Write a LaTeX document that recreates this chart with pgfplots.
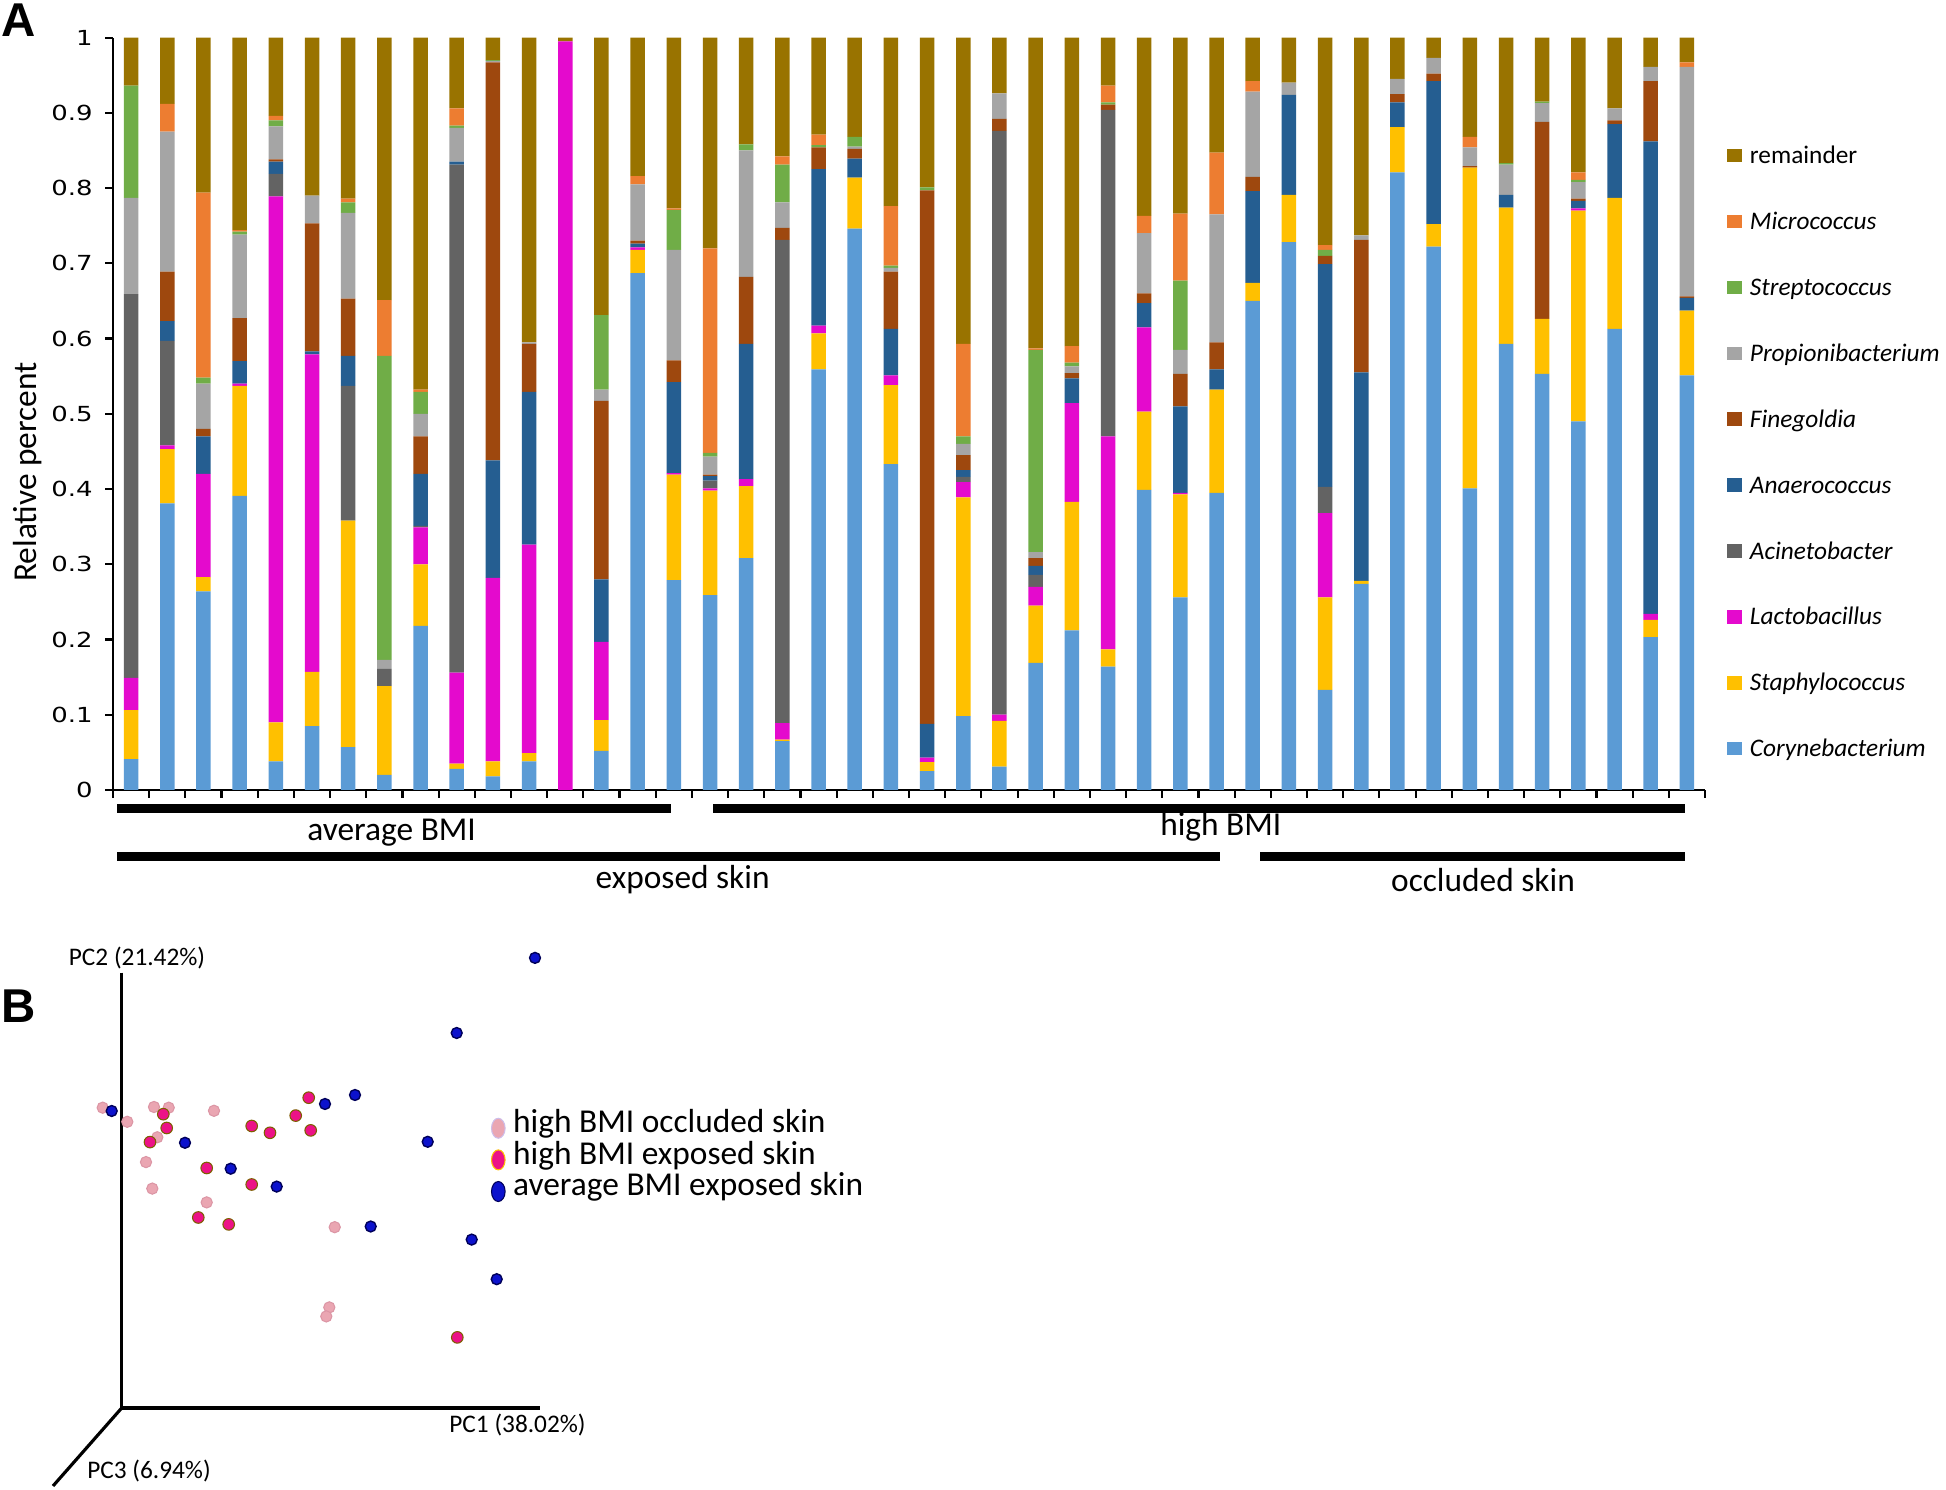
\documentclass[border=0pt]{standalone}
\usepackage{fontspec}
\setmainfont{Carlito}
\newfontfamily\dejavuwide[FakeStretch=1.25]{DejaVu Sans}
\newfontfamily\arialfont{Liberation Sans}
\usepackage{pgfplots}
\usepackage{pgfplotstable}
\pgfplotsset{compat=1.18}

\definecolor{cCory}{RGB}{91,155,213}
\definecolor{cStaph}{RGB}{255,192,0}
\definecolor{cLacto}{RGB}{228,10,205}
\definecolor{cAcin}{RGB}{99,99,99}
\definecolor{cAnaero}{RGB}{37,94,145}
\definecolor{cFine}{RGB}{158,72,14}
\definecolor{cProp}{RGB}{165,165,165}
\definecolor{cStrep}{RGB}{112,173,71}
\definecolor{cMicro}{RGB}{237,125,49}
\definecolor{cRem}{RGB}{153,115,0}
\definecolor{cPink}{RGB}{234,166,178}
\definecolor{cPinkD}{RGB}{220,150,165}
\definecolor{cMag}{RGB}{236,18,135}
\definecolor{cMagD}{RGB}{125,95,0}
\definecolor{cBlue}{RGB}{12,18,205}
\definecolor{cBlueD}{RGB}{0,0,90}

\pgfplotstableread{
x cory staph lacto acin anaero fine prop strep micro rem
1 0.041 0.065 0.043 0.510 0 0 0.128 0.149 0 0.064
2 0.381 0.072 0.005 0.139 0.026 0.066 0.186 0 0.037 0.088
3 0.264 0.019 0.137 0 0.050 0.010 0.060 0.008 0.246 0.206
4 0.391 0.146 0.003 0 0.030 0.057 0.111 0.004 0.002 0.256
5 0.038 0.052 0.699 0.030 0.016 0.003 0.044 0.008 0.006 0.104
6 0.085 0.072 0.422 0 0.004 0.170 0.037 0 0 0.210
7 0.057 0.301 0 0.179 0.040 0.076 0.114 0.014 0.005 0.214
8 0.020 0.118 0 0.023 0 0 0.012 0.404 0.074 0.349
9 0.218 0.082 0.049 0.002 0.069 0.050 0.030 0.029 0.003 0.468
10 0.028 0.007 0.121 0.675 0.004 0 0.045 0.003 0.023 0.094
11 0.018 0.020 0.244 0 0.156 0.529 0.002 0.001 0 0.030
12 0.038 0.011 0.277 0 0.203 0.064 0.002 0 0 0.405
13 0 0 0.995 0 0 0 0 0 0 0.005
14 0.052 0.041 0.104 0 0.083 0.237 0.015 0.099 0 0.369
15 0.687 0.031 0.003 0 0.005 0.004 0.075 0 0.011 0.184
16 0.279 0.140 0.002 0 0.121 0.029 0.147 0.053 0.002 0.227
17 0.259 0.139 0.003 0.010 0.006 0.002 0.024 0.005 0.272 0.280
18 0.308 0.096 0.009 0 0.180 0.089 0.168 0.008 0 0.142
19 0.065 0.002 0.022 0.642 0 0.016 0.034 0.050 0.011 0.158
20 0.559 0.048 0.010 0 0.208 0.029 0 0.003 0.014 0.129
21 0.746 0.068 0 0 0.025 0.013 0.003 0.013 0 0.132
22 0.433 0.105 0.013 0 0.062 0.076 0.005 0.003 0.079 0.224
23 0.025 0.012 0.006 0 0.045 0.709 0 0.004 0 0.199
24 0.098 0.291 0.020 0.007 0.009 0.020 0.015 0.010 0.123 0.407
25 0.031 0.061 0.008 0.776 0 0.016 0.034 0 0 0.074
26 0.169 0.076 0.025 0.016 0.012 0.010 0.008 0.269 0.002 0.413
27 0.212 0.171 0.131 0 0.033 0.007 0.009 0.005 0.022 0.410
28 0.164 0.023 0.283 0.434 0 0.007 0 0.003 0.022 0.064
29 0.399 0.104 0.112 0 0.032 0.013 0.080 0 0.023 0.237
30 0.256 0.137 0.002 0 0.115 0.043 0.032 0.092 0.089 0.234
31 0.395 0.137 0 0 0.027 0.036 0.170 0 0.082 0.153
32 0.650 0.024 0 0 0.122 0.019 0.113 0 0.014 0.058
33 0.728 0.063 0 0 0.133 0 0.016 0 0 0.060
34 0.133 0.123 0.112 0.035 0.296 0.011 0 0.008 0.006 0.276
35 0.274 0.004 0 0 0.277 0.176 0.006 0 0 0.263
36 0.821 0.060 0 0 0.033 0.011 0.020 0 0 0.055
37 0.722 0.030 0 0 0.190 0.010 0.021 0 0 0.027
38 0.401 0.426 0 0 0 0.002 0.025 0 0.014 0.132
39 0.593 0.181 0 0 0.017 0 0.040 0.002 0 0.167
40 0.553 0.073 0 0 0 0.262 0.025 0.002 0 0.085
41 0.490 0.280 0.003 0 0.010 0.003 0.022 0.003 0.010 0.179
42 0.613 0.174 0 0 0.098 0.005 0.016 0 0 0.094
43 0.203 0.023 0.008 0 0.628 0.080 0.019 0 0 0.039
44 0.551 0.086 0 0 0.017 0.002 0.305 0 0.006 0.033
}\bardata

\pgfplotstableread{
x y
102.7 382.3
154.0 383.0
168.7 382.3
214.0 379.2
127.3 368.2
157.3 352.7
146.0 327.9
152.3 301.4
206.7 287.6
334.7 262.8
329.3 182.6
326.3 173.6
}\pinkdata

\pgfplotstableread{
x y
308.7 392.3
295.7 374.4
163.3 375.8
251.7 364.0
166.7 362.0
270.0 357.2
310.7 359.6
150.0 347.9
206.7 322.0
251.7 305.5
198.3 272.5
228.7 265.6
457.3 152.6
}\magdata

\pgfplotstableread{
x y
535.0 532.1
456.7 457.0
111.7 379.0
355.0 395.0
325.0 386.0
427.7 348.2
185.0 347.2
230.7 321.3
276.7 303.4
370.7 263.5
471.7 250.4
496.7 210.8
}\bluedata

\pgfplotsset{sqleg/.style={legend image code/.code={\fill[##1] (0cm,-0.0525cm) rectangle (0.15cm,0.0825cm);}}}

\begin{document}
\begin{tikzpicture}
\useasboundingbox (0,0) rectangle (19.46,14.90);

% ---------------- Panel A ----------------
\begin{axis}[
  at={(1.13cm,7.00cm)}, anchor=south west,
  width=15.92cm, height=7.524cm, scale only axis,
  ybar stacked, bar width=0.145cm,
  xmin=0.5, xmax=44.5, ymin=0, ymax=1, enlargelimits=false,
  axis lines*=left,
  axis line style={black, line width=0.6pt},
  xtick={0.5,1.5,2.5,3.5,4.5,5.5,6.5,7.5,8.5,9.5,10.5,11.5,12.5,13.5,14.5,15.5,16.5,17.5,18.5,19.5,20.5,21.5,22.5,23.5,24.5,25.5,26.5,27.5,28.5,29.5,30.5,31.5,32.5,33.5,34.5,35.5,36.5,37.5,38.5,39.5,40.5,41.5,42.5,43.5,44.5},
  xticklabels={},
  ytick={0,0.1,0.2,0.3,0.4,0.5,0.6,0.7,0.8,0.9,1},
  yticklabels={0,0.1,0.2,0.3,0.4,0.5,0.6,0.7,0.8,0.9,1},
  yticklabel style={font=\dejavuwide\fontsize{5.9}{7}\selectfont},
  tick align=outside, major tick length=0.08cm,
  tick style={black, line width=0.6pt},
  reverse legend,
  legend cell align=left,
  legend style={at={(1.0138,0.8568)}, anchor=north west, draw=none, fill=none,
    inner sep=0pt, outer sep=0pt, row sep=12.05pt, column sep=0.08cm,
    font=\fontsize{7.2}{8}\selectfont,
    nodes={inner sep=0pt, text height=5.2pt, text depth=1.5pt}},
]
\addplot[fill=cCory, draw=none, sqleg] table[x=x, y=cory] {\bardata};
\addplot[fill=cStaph, draw=none, sqleg] table[x=x, y=staph] {\bardata};
\addplot[fill=cLacto, draw=none, sqleg] table[x=x, y=lacto] {\bardata};
\addplot[fill=cAcin, draw=none, sqleg] table[x=x, y=acin] {\bardata};
\addplot[fill=cAnaero, draw=none, sqleg] table[x=x, y=anaero] {\bardata};
\addplot[fill=cFine, draw=none, sqleg] table[x=x, y=fine] {\bardata};
\addplot[fill=cProp, draw=none, sqleg] table[x=x, y=prop] {\bardata};
\addplot[fill=cStrep, draw=none, sqleg] table[x=x, y=strep] {\bardata};
\addplot[fill=cMicro, draw=none, sqleg] table[x=x, y=micro] {\bardata};
\addplot[fill=cRem, draw=none, sqleg] table[x=x, y=rem] {\bardata};
\legend{\textit{Corynebacterium}, \textit{Staphylococcus}, \textit{Lactobacillus}, \textit{Acinetobacter}, \textit{Anaerococcus}, \textit{Finegoldia}, \textit{Propionibacterium}, \textit{Streptococcus}, \textit{Micrococcus}, remainder}
\end{axis}

% y label
\node[rotate=90, inner sep=0pt, font=\fontsize{9.5}{11}\selectfont] at (0.28,10.18) {Relative percent};

% group bars
\fill[black] (1.167,6.765) rectangle (6.71,6.855);
\fill[black] (7.13,6.765) rectangle (16.845,6.855);
\fill[black] (1.167,6.288) rectangle (12.20,6.378);
\fill[black] (12.598,6.288) rectangle (16.845,6.378);
\begin{scope}[every node/.style={inner sep=0pt, font=\fontsize{9.5}{11}\selectfont}]
\node at (3.916,6.57) {average BMI};
\node at (12.208,6.628) {high BMI};
\node at (6.827,6.10) {exposed skin};
\node at (14.83,6.10) {occluded skin};
\end{scope}

% panel letters
\node[inner sep=0pt, font=\arialfont\bfseries\fontsize{13.5}{15}\selectfont] at (0.185,14.70) {A};
\node[inner sep=0pt, font=\arialfont\bfseries\fontsize{13.5}{15}\selectfont] at (0.19,4.835) {B};

% ---------------- Panel B ----------------
\begin{axis}[
  at={(0cm,0cm)}, anchor=south west,
  width=19.46cm, height=14.90cm, scale only axis,
  xmin=0, xmax=1946, ymin=0, ymax=1490,
  hide axis, clip=false,
  legend cell align=left,
  legend style={at={(0.25231,0.2554)}, anchor=north west, draw=none, fill=none,
    inner sep=0pt, outer sep=0pt, row sep=0pt, column sep=0.075cm,
    font=\fontsize{9.5}{11}\selectfont,
    nodes={inner sep=0pt, text height=6.6pt, text depth=2.4pt}},
]
\draw[black, line width=0.9pt] (axis cs:121.7,517.3) -- (axis cs:121.7,82) -- (axis cs:540,82);
\draw[black, line width=0.9pt] (axis cs:121.7,82) -- (axis cs:53,4);
\addplot[only marks, mark=*, mark size=1.6pt, mark options={fill=cPink, draw=cPinkD, line width=0.3pt},
  legend image code/.code={\filldraw[fill=cPink, draw=cPinkD!60!blue!40, line width=0.3pt] (0.068cm,-0.03cm) ellipse (0.068cm and 0.1cm);}]
  table[x=x, y=y] {\pinkdata};
\addplot[only marks, mark=*, mark size=1.65pt, mark options={fill=cMag, draw=cMagD, line width=0.3pt},
  legend image code/.code={\filldraw[fill=cMag, draw=cStaph, line width=0.3pt] (0.068cm,-0.03cm) ellipse (0.068cm and 0.1cm);}]
  table[x=x, y=y] {\magdata};
\addplot[only marks, mark=*, mark size=1.55pt, mark options={fill=cBlue, draw=cBlueD, line width=0.4pt},
  legend image code/.code={\filldraw[fill=cBlue, draw=cBlueD, line width=0.3pt] (0.068cm,-0.03cm) ellipse (0.068cm and 0.1cm);}]
  table[x=x, y=y] {\bluedata};
\legend{high BMI occluded skin, high BMI exposed skin, average BMI exposed skin}
\end{axis}

\begin{scope}[every node/.style={inner sep=0pt, font=\fontsize{7.2}{9}\selectfont}]
\node at (1.37,5.32) {PC2 (21.42\%)};
\node at (5.175,0.65) {PC1 (38.02\%)};
\node at (1.49,0.19) {PC3 (6.94\%)};
\end{scope}
\end{tikzpicture}
\end{document}
